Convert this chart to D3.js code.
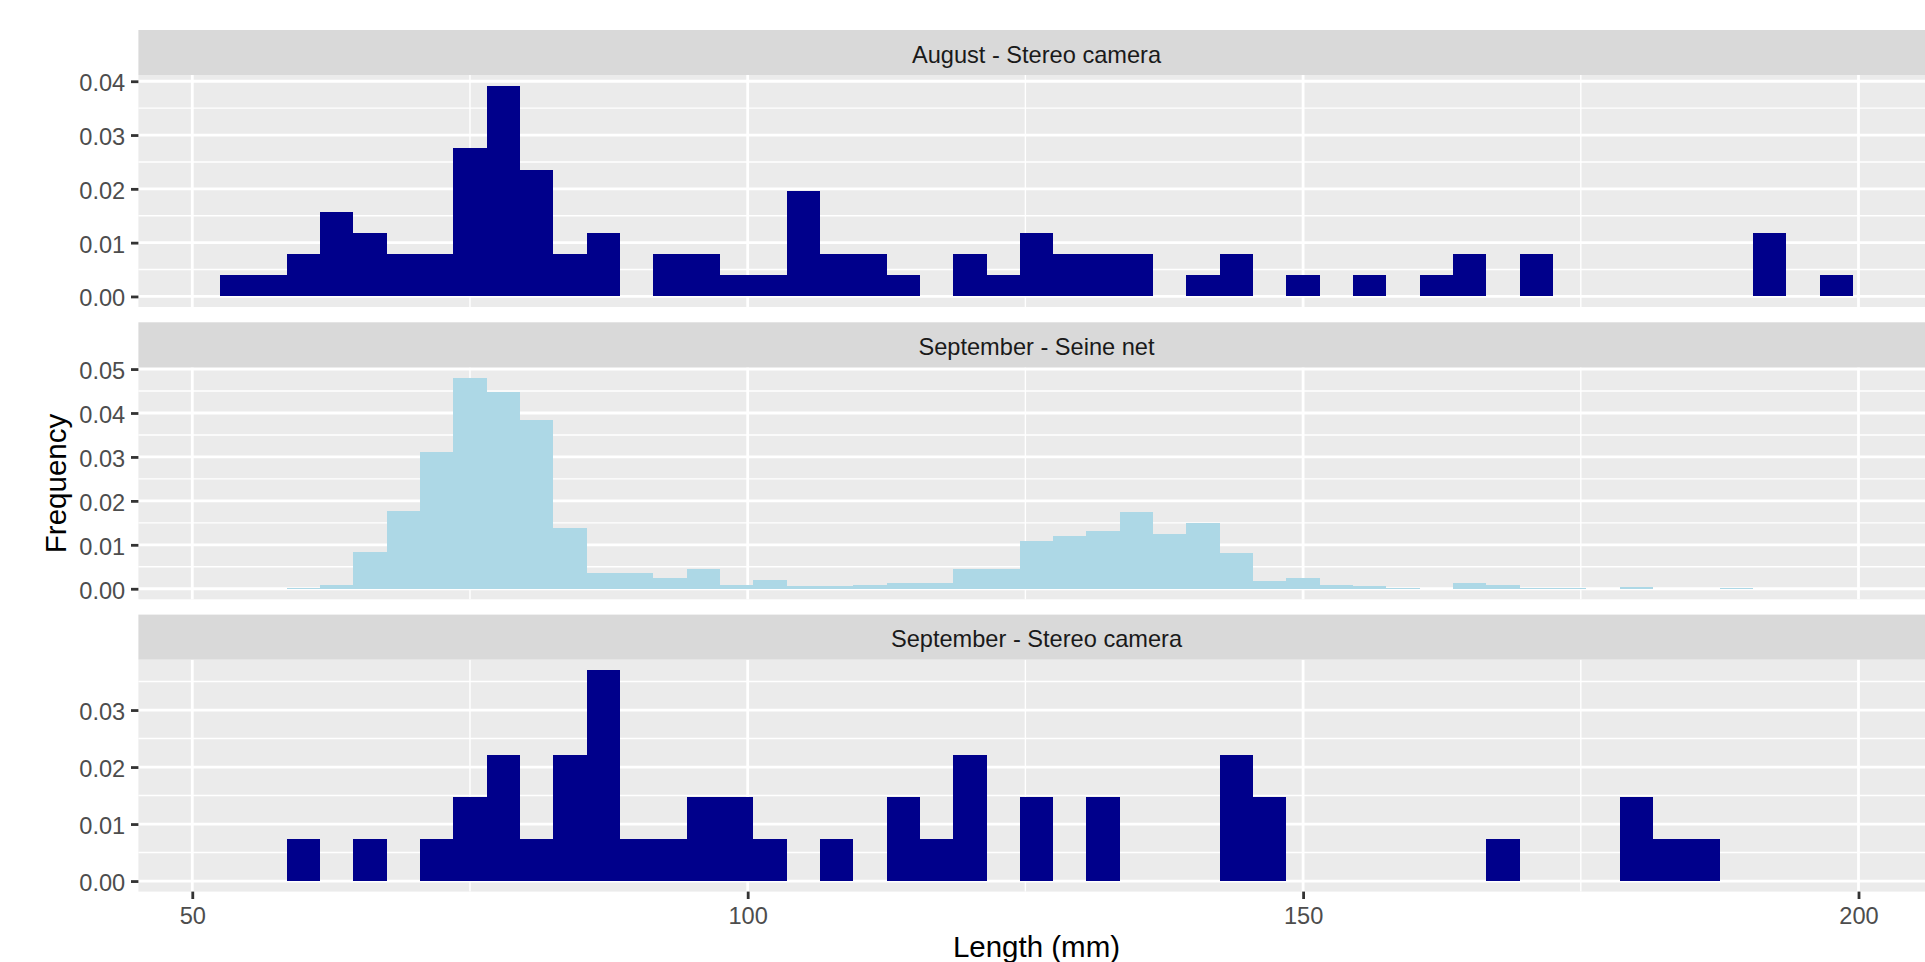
<!DOCTYPE html>
<html>
<head>
<meta charset="utf-8">
<script src="https://cdn.jsdelivr.net/npm/d3@7"></script>
<style>
  body { margin: 0; background: #ffffff; }
  svg { display: block; font-family: "Liberation Sans", Arial, sans-serif; }
</style>
</head>
<body>
<div id="histograms"></div>
<script>
// lower edge of each 3 mm length bin
const binWidth = 3;
const binStarts = d3.range(52.5, 199.5, binWidth);

// density per bin
const augustStereo = [
  0.0039, 0.0039, 0.0078, 0.0157, 0.0118, 0.0078, 0.0078, 0.0275, 0.0392, 0.0235,
  0.0078, 0.0118, 0, 0.0078, 0.0078, 0.0039, 0.0039, 0.0196, 0.0078, 0.0078,
  0.0039, 0, 0.0078, 0.0039, 0.0118, 0.0078, 0.0078, 0.0078, 0, 0.0039,
  0.0078, 0, 0.0039, 0, 0.0039, 0, 0.0039, 0.0078, 0, 0.0078,
  0, 0, 0, 0, 0, 0, 0.0118, 0, 0.0039
];
const septemberSeine = [
  0, 0, 0.0002, 0.0008, 0.0084, 0.0176, 0.0312, 0.0480, 0.0448, 0.0384,
  0.0138, 0.0036, 0.0036, 0.0024, 0.0046, 0.0009, 0.0021, 0.0007, 0.0007, 0.0009,
  0.0014, 0.0014, 0.0046, 0.0046, 0.0109, 0.0120, 0.0131, 0.0175, 0.0125, 0.0149,
  0.0081, 0.0018, 0.0024, 0.0009, 0.0007, 0.0002, 0, 0.0013, 0.0009, 0.0002,
  0.0002, 0, 0.0004, 0, 0, 0.0002, 0, 0, 0
];
const septemberStereo = [
  0, 0, 0.0074, 0, 0.0074, 0, 0.0074, 0.0148, 0.0222, 0.0074,
  0.0222, 0.0370, 0.0074, 0.0074, 0.0148, 0.0148, 0.0074, 0, 0.0074, 0,
  0.0148, 0.0074, 0.0222, 0, 0.0148, 0, 0.0148, 0, 0, 0,
  0.0222, 0.0148, 0, 0, 0, 0, 0, 0, 0.0074, 0,
  0, 0, 0.0148, 0.0074, 0.0074, 0, 0, 0, 0
];

const panelTitles = ['August - Stereo camera', 'September - Seine net', 'September - Stereo camera'];
const panelSeries = [augustStereo, septemberSeine, septemberStereo];
const panelFills = ['#00008B', '#ADD8E6', '#00008B'];
const panelYTicks = [
  [0, 0.01, 0.02, 0.03, 0.04],
  [0, 0.01, 0.02, 0.03, 0.04, 0.05],
  [0, 0.01, 0.02, 0.03]
];
const xTicks = [50, 100, 150, 200];
const xMinorTicks = [75, 125, 175];

const width = 1925;
const height = 962;
const panelLeft = 138.4;
const panelRight = 1934.6; // the panel runs past the right edge, as in the original
const firstTop = 30;
const stripH = 45;
const panelH = 232;
const panelGap = 15.3;
const tickFont = 23.6;
const titleFont = 29.5;
const majorW = 2.8;
const minorW = 1.4;

const svg = d3.select('#histograms').append('svg')
    .attr('width', width)
    .attr('height', height);

svg.append('rect')
    .attr('width', width)
    .attr('height', height)
    .attr('fill', '#ffffff');

const lo = binStarts[0];
const hi = binStarts[binStarts.length - 1] + binWidth;
const pad = (hi - lo) * 0.05;
const x = d3.scaleLinear()
    .domain([lo - pad, hi + pad])
    .range([panelLeft, panelRight]);

panelSeries.forEach((values, i) => drawPanel(i, values));
drawLabels();

function drawPanel(i, values) {
  const top = firstTop + i * (stripH + panelH + panelGap);
  const pTop = top + stripH;
  const pBottom = pTop + panelH;
  const maxV = d3.max(values);
  const y = d3.scaleLinear()
      .domain([-0.05 * maxV, 1.05 * maxV])
      .range([pBottom, pTop]);
  const g = svg.append('g');

  // Panel background
  g.append('rect')
      .attr('x', panelLeft)
      .attr('y', pTop)
      .attr('width', panelRight - panelLeft)
      .attr('height', panelH)
      .attr('fill', '#EBEBEB');

  // Minor grid
  const ticks = panelYTicks[i];
  const yMinor = ticks.map(t => t + 0.005).filter(t => t < y.domain()[1]);
  g.selectAll('.y-minor')
      .data(yMinor)
      .enter()
      .append('line')
      .attr('x1', panelLeft).attr('x2', panelRight)
      .attr('y1', d => y(d)).attr('y2', d => y(d))
      .attr('stroke', '#ffffff')
      .attr('stroke-width', minorW);
  g.selectAll('.x-minor')
      .data(xMinorTicks)
      .enter()
      .append('line')
      .attr('x1', d => x(d)).attr('x2', d => x(d))
      .attr('y1', pTop).attr('y2', pBottom)
      .attr('stroke', '#ffffff')
      .attr('stroke-width', minorW);

  // Major grid
  g.selectAll('.y-major')
      .data(ticks)
      .enter()
      .append('line')
      .attr('x1', panelLeft).attr('x2', panelRight)
      .attr('y1', d => y(d)).attr('y2', d => y(d))
      .attr('stroke', '#ffffff')
      .attr('stroke-width', majorW);
  g.selectAll('.x-major')
      .data(xTicks)
      .enter()
      .append('line')
      .attr('x1', d => x(d)).attr('x2', d => x(d))
      .attr('y1', pTop).attr('y2', pBottom)
      .attr('stroke', '#ffffff')
      .attr('stroke-width', majorW);

  // Bars, snapped to pixels so neighbouring bins join without seams
  g.selectAll('.bar')
      .data(values.map((v, k) => ({ x0: binStarts[k], v: v })).filter(d => d.v > 0))
      .enter()
      .append('rect')
      .attr('class', 'bar')
      .attr('x', d => x(d.x0))
      .attr('width', d => x(d.x0 + binWidth) - x(d.x0))
      .attr('y', d => y(d.v))
      .attr('height', d => y(0) - y(d.v))
      .attr('fill', panelFills[i])
      .attr('shape-rendering', 'crispEdges');

  // Strip
  g.append('rect')
      .attr('x', panelLeft)
      .attr('y', top)
      .attr('width', panelRight - panelLeft)
      .attr('height', stripH)
      .attr('fill', '#D9D9D9');
  g.append('text')
      .text(panelTitles[i])
      .attr('x', (panelLeft + panelRight) / 2)
      .attr('y', top + 32.5)
      .attr('text-anchor', 'middle')
      .style('font-size', tickFont + 'px')
      .attr('fill', '#1A1A1A');

  // Y axis
  const yAxis = svg.append('g')
      .attr('transform', `translate(${panelLeft},0)`)
      .call(d3.axisLeft(y)
        .tickValues(ticks)
        .tickFormat(d3.format('.2f'))
        .tickSize(7.4)
        .tickPadding(5.8));
  styleAxis(yAxis);
  yAxis.selectAll('text').attr('dy', '0.4em');

  // X axis only under the last panel
  if (i === panelSeries.length - 1) {
    const xAxis = svg.append('g')
        .attr('transform', `translate(0,${pBottom})`)
        .call(d3.axisBottom(x)
          .tickValues(xTicks)
          .tickSize(7.4)
          .tickPadding(8));
    styleAxis(xAxis);
  }
}

function styleAxis(axis) {
  axis.select('.domain').remove();
  axis.selectAll('line')
      .attr('stroke', '#333333')
      .attr('stroke-width', majorW);
  axis.selectAll('text')
      .attr('fill', '#4D4D4D')
      .style('font-size', tickFont + 'px')
      .style('font-family', '"Liberation Sans", Arial, sans-serif');
}

function drawLabels() {
  svg.append('text')
      .text('Length (mm)')
      .attr('x', (panelLeft + panelRight) / 2)
      .attr('y', 956.5)
      .attr('text-anchor', 'middle')
      .style('font-size', titleFont + 'px')
      .attr('fill', '#000000');

  svg.append('text')
      .text('Frequency')
      .attr('transform', 'translate(66,483.5) rotate(-90)')
      .attr('text-anchor', 'middle')
      .style('font-size', titleFont + 'px')
      .attr('fill', '#000000');
}
</script>
</body>
</html>
